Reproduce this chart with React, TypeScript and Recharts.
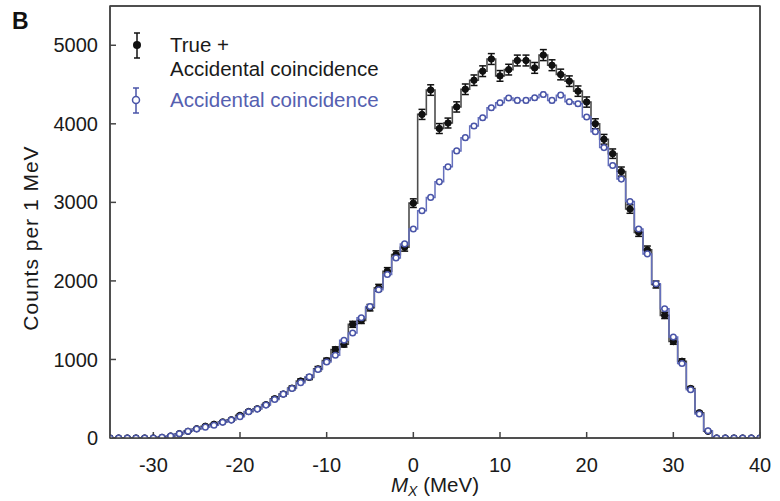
import React from "react";
import {
  ComposedChart,
  ErrorBar,
  Line,
  XAxis,
  YAxis
} from "recharts";

// bin centres, MeV
const massBins = [
  -35, -34, -33, -32, -31, -30, -29, -28, -27, -26, -25, -24, -23, -22, -21, -20, -19, -18, -17, -16,
  -15, -14, -13, -12, -11, -10, -9, -8, -7, -6, -5, -4, -3, -2, -1, 0, 1, 2, 3, 4,
  5, 6, 7, 8, 9, 10, 11, 12, 13, 14, 15, 16, 17, 18, 19, 20, 21, 22, 23, 24,
  25, 26, 27, 28, 29, 30, 31, 32, 33, 34, 35, 36, 37, 38, 39, 40
];

// true + accidental coincidence
const trueAccCounts = [
  0, 0, 0, 0, 0, 0, 8, 25, 55, 85, 118, 150, 175, 205, 232, 288, 338, 372, 425, 500,
  560, 635, 725, 772, 880, 985, 1126, 1193, 1447, 1497, 1659, 1912, 2123, 2335, 2428, 2990, 4120, 4430, 3940, 4010,
  4215, 4440, 4555, 4670, 4825, 4610, 4690, 4806, 4806, 4712, 4875, 4746, 4628, 4543, 4416, 4277, 4001, 3803, 3620, 3392,
  2915, 2618, 2395, 1954, 1561, 1228, 977, 630, 321, 85, 0, 0, 0, 0, 0, 0
];
const trueAccErr = [
  0, 0, 0, 0, 0, 0, 3, 5, 7, 9, 11, 12, 13, 14, 15, 17, 18, 19, 21, 22,
  24, 25, 27, 28, 30, 31, 34, 35, 38, 39, 41, 44, 46, 48, 49, 55, 64, 67, 63, 63,
  65, 67, 67, 68, 69, 68, 68, 69, 69, 69, 70, 69, 68, 67, 66, 65, 63, 62, 60, 58,
  54, 51, 49, 44, 40, 35, 31, 25, 18, 9, 0, 0, 0, 0, 0, 0
];

// accidental coincidence only
const accidentalCounts = [
  0, 0, 0, 0, 0, 0, 8, 25, 55, 85, 115, 138, 162, 200, 228, 272, 334, 368, 419, 491,
  558, 631, 705, 778, 872, 968, 1053, 1244, 1337, 1531, 1675, 1887, 2081, 2293, 2471, 2661, 2893, 3063, 3261, 3452,
  3655, 3824, 3972, 4078, 4204, 4268, 4328, 4298, 4298, 4331, 4374, 4298, 4365, 4281, 4255, 4086, 3900, 3697, 3470, 3296,
  3011, 2661, 2344, 1963, 1646, 1286, 948, 614, 305, 93, 0, 0, 0, 0, 0, 0
];
const accidentalErr = [
  0, 0, 0, 0, 0, 0, 1, 2, 3, 4, 5, 5, 6, 6, 7, 7, 8, 8, 9, 10,
  10, 11, 12, 12, 13, 14, 14, 15, 16, 17, 18, 19, 20, 21, 22, 23, 24, 24, 25, 26,
  27, 27, 28, 28, 29, 29, 29, 29, 29, 29, 29, 29, 29, 29, 29, 28, 27, 27, 26, 25,
  24, 23, 21, 19, 18, 16, 13, 11, 8, 4, 0, 0, 0, 0, 0, 0
];

const xTicks = [-30, -20, -10, 0, 10, 20, 30, 40];
const yTicks = [0, 1000, 2000, 3000, 4000, 5000];

const chartData = massBins.map((m, i) => ({
  m,
  total: trueAccCounts[i],
  totalErr: trueAccErr[i],
  acc: accidentalCounts[i],
  accErr: accidentalErr[i]
}));

const FONT = "'Liberation Sans', Arial, Helvetica, sans-serif";
const BLUE = "#4a55a8";
const BLUE_LINE = "#6570bd";
const AXIS = "#444";

// plot box (frame)
const BOX = { left: 110, top: 6, right: 760, bottom: 438 };

export default function App() {
  return (
    <div style={{ position: "absolute", left: 0, top: 0, width: 780, height: 501, background: "#fff", fontFamily: FONT }}>
      <ComposedChart
        width={780}
        height={501}
        data={chartData}
        margin={{ top: 5, right: 19, bottom: 0, left: 0 }}
      >
        <XAxis
          dataKey="m"
          type="number"
          domain={[-35, 40]}
          ticks={xTicks}
          height={63}
          tickSize={-6}
          tickMargin={26}
          stroke={AXIS}
          strokeWidth={1.5}
          tick={{ fontSize: 20, fill: "#1a1a1a", fontFamily: FONT }}
          allowDataOverflow
        />
        <XAxis
          xAxisId="top"
          dataKey="m"
          orientation="top"
          type="number"
          domain={[-35, 40]}
          ticks={xTicks}
          height={1}
          tickSize={-6}
          tick={false}
          stroke={AXIS}
          strokeWidth={1.5}
          allowDataOverflow
        />
        <YAxis
          type="number"
          domain={[0, 5500]}
          ticks={yTicks}
          width={110}
          tickSize={-6}
          tickMargin={18}
          stroke={AXIS}
          strokeWidth={1.5}
          tick={{ fontSize: 20, fill: "#1a1a1a", fontFamily: FONT }}
          allowDataOverflow
        />
        <YAxis
          yAxisId="right"
          orientation="right"
          type="number"
          domain={[0, 5500]}
          width={1}
          tick={false}
          tickLine={false}
          stroke={AXIS}
          strokeWidth={1.5}
          allowDataOverflow
        />
        <Line
          dataKey="total"
          type="step"
          stroke="#4d4d4d"
          strokeWidth={1.6}
          dot={{ r: 3.2, fill: "#111", stroke: "#111", strokeWidth: 1 }}
          isAnimationActive={false}
        >
          <ErrorBar dataKey="totalErr" direction="y" width={3.5} stroke="#111" strokeWidth={1.5} />
        </Line>
        <Line
          dataKey="acc"
          type="step"
          stroke={BLUE_LINE}
          strokeWidth={1.5}
          dot={{ r: 2.8, fill: "#fff", stroke: BLUE, strokeWidth: 1.5 }}
          isAnimationActive={false}
        >
          <ErrorBar dataKey="accErr" direction="y" width={2.5} stroke={BLUE} strokeWidth={1.2} />
        </Line>
      </ComposedChart>

      <svg
        width={780}
        height={501}
        style={{ position: "absolute", left: 0, top: 0, pointerEvents: "none" }}
        fontFamily={FONT}
      >
        <rect
          x={BOX.left}
          y={BOX.top}
          width={BOX.right - BOX.left}
          height={BOX.bottom - BOX.top}
          fill="none"
          stroke={AXIS}
          strokeWidth={1.5}
        />
        <text x={12} y={29} fontSize={23} fontWeight="bold" fill="#111">B</text>

        {/* legend */}
        <line x1={137} y1={33} x2={137} y2={58} stroke="#111" strokeWidth={1.5} />
        <line x1={134} y1={33} x2={140} y2={33} stroke="#111" strokeWidth={1.5} />
        <line x1={134} y1={58} x2={140} y2={58} stroke="#111" strokeWidth={1.5} />
        <circle cx={137} cy={45} r={4} fill="#111" />
        <text x={170} y={52} fontSize={20.5} fill="#1a1a1a">True +</text>
        <text x={170} y={76} fontSize={20.5} fill="#1a1a1a">Accidental coincidence</text>

        <line x1={136} y1={88} x2={136} y2={113} stroke={BLUE} strokeWidth={1.5} />
        <line x1={133} y1={88} x2={139} y2={88} stroke={BLUE} strokeWidth={1.5} />
        <line x1={133} y1={113} x2={139} y2={113} stroke={BLUE} strokeWidth={1.5} />
        <circle cx={136} cy={100} r={3.5} fill="#fff" stroke={BLUE} strokeWidth={1.5} />
        <text x={170} y={107} fontSize={20.5} fill="#5560b0">Accidental coincidence</text>

        {/* axis titles */}
        <text
          x={0}
          y={0}
          transform="translate(38,238) rotate(-90)"
          textAnchor="middle"
          fontSize={21}
          letterSpacing={1}
          fill="#1a1a1a"
        >
          Counts per 1 MeV
        </text>
        <text x={435} y={492} textAnchor="middle" fontSize={20.5} fill="#1a1a1a">
          <tspan fontStyle="italic">M</tspan>
          <tspan fontStyle="italic" fontSize={14} dy={4}>X</tspan>
          <tspan dy={-4}> (MeV)</tspan>
        </text>
      </svg>
    </div>
  );
}
